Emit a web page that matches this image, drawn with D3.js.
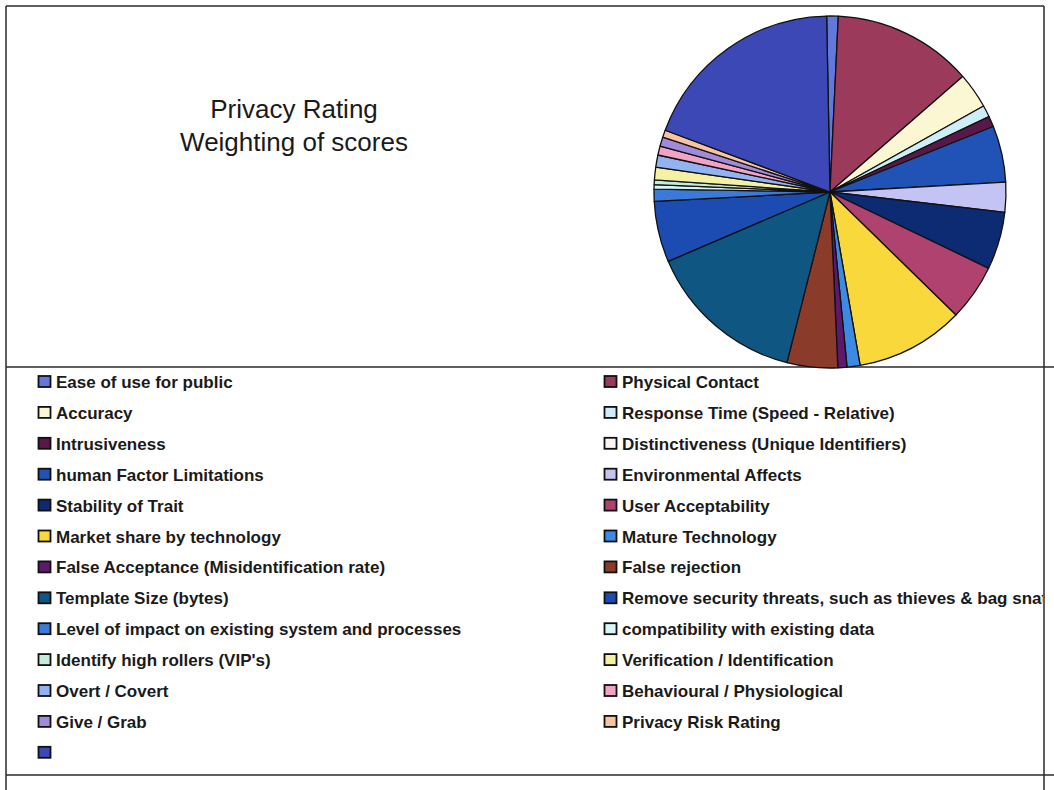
<!DOCTYPE html>
<html>
<head>
<meta charset="utf-8">
<script src="https://cdn.jsdelivr.net/npm/d3@7"></script>
<style>
  html, body { margin: 0; padding: 0; background: #fff; }
  svg { display: block; }
</style>
</head>
<body>
<svg id="chart" width="1054" height="790"></svg>
<script>
// Criteria in series order (legend reads row by row, two columns)
const categories = [
  "Ease of use for public",
  "Physical Contact",
  "Accuracy",
  "Response Time (Speed - Relative)",
  "Intrusiveness",
  "Distinctiveness (Unique Identifiers)",
  "human Factor Limitations",
  "Environmental Affects",
  "Stability of Trait",
  "User Acceptability",
  "Market share by technology",
  "Mature Technology",
  "False Acceptance (Misidentification rate)",
  "False rejection",
  "Template Size (bytes)",
  "Remove security threats, such as thieves & bag snatchers",
  "Level of impact on existing system and processes",
  "compatibility with existing data",
  "Identify high rollers (VIP's)",
  "Verification / Identification",
  "Overt / Covert",
  "Behavioural / Physiological",
  "Give / Grab",
  "Privacy Risk Rating",
  ""
];

// Weighting of each criterion in the privacy score
const weights = [
  3.8, 46.2, 11.8, 3.9, 3.5, 0, 18.6, 9.9, 19.0, 18.6,
  35.8, 4.3, 3.0, 16.7, 52.6, 20.1, 4.0, 1.5, 1.5, 4.2,
  4.0, 3.0, 3.0, 2.4, 68.3
];

// Slice fills
const colors = [
  "#6278dc", "#9c3a5c", "#fbf7d2", "#cdeef8", "#5a1848", "#fdf4f4",
  "#2152b6", "#c4c4f4", "#0d2b72", "#b0426f", "#f9d83c", "#3d8ae2",
  "#5c1a6c", "#8a3b2a", "#0f5782", "#1c4cb2", "#3b7ad8", "#d8f6f6",
  "#c4ecda", "#f5f1a2", "#93b2f1", "#f1a3c3", "#a18ad9", "#f8c3a2",
  "#3c48b6"
];

const svg = d3.select("#chart");

// Frame lines
const frame = svg.append("g")
  .attr("stroke", "#2a2a2a")
  .attr("stroke-width", 1.5)
  .attr("fill", "none");
frame.append("line").attr("x1", 6).attr("y1", 6).attr("x2", 1044).attr("y2", 6);
frame.append("line").attr("x1", 6).attr("y1", 6).attr("x2", 6).attr("y2", 790);
frame.append("line").attr("x1", 1044).attr("y1", 6).attr("x2", 1044).attr("y2", 790);
frame.append("line").attr("x1", 6).attr("y1", 367).attr("x2", 1054).attr("y2", 367);
frame.append("line").attr("x1", 6).attr("y1", 775).attr("x2", 1054).attr("y2", 775);

// Title
const title = svg.append("text")
  .attr("text-anchor", "middle")
  .attr("font-family", "Liberation Sans, Arial, sans-serif")
  .attr("font-size", 26)
  .attr("fill", "#1a1a1a");
title.append("tspan").attr("x", 294).attr("y", 118).text("Privacy Rating");
title.append("tspan").attr("x", 294).attr("y", 151).text("Weighting of scores");

// Pie
const cx = 830, cy = 192, radius = 176;
const start = -1.1 * Math.PI / 180;
const pie = d3.pie()
  .sort(null)
  .value(d => d.value)
  .startAngle(start)
  .endAngle(start + 2 * Math.PI);
const arc = d3.arc().innerRadius(0).outerRadius(radius);

const data = categories.map((c, i) => ({ name: c, value: weights[i], color: colors[i] }));

svg.append("g")
  .attr("transform", `translate(${cx},${cy})`)
  .selectAll("path")
  .data(pie(data).filter(d => d.data.value > 0))
  .join("path")
  .attr("d", arc)
  .attr("fill", d => d.data.color)
  .attr("stroke", "#111")
  .attr("stroke-width", 1.3)
  .attr("stroke-linejoin", "round");

// Legend, two columns filled row by row; long labels run into the frame edge
svg.append("clipPath").attr("id", "legendClip")
  .append("rect").attr("x", 0).attr("y", 368).attr("width", 1043).attr("height", 406);

const colX = [38, 604];
const row0 = 382, rowStep = 30.9;
const legend = svg.append("g").attr("clip-path", "url(#legendClip)");
const items = legend.selectAll("g.item")
  .data(data)
  .join("g")
  .attr("class", "item")
  .attr("transform", (d, i) =>
    `translate(${colX[i % 2]},${row0 + Math.floor(i / 2) * rowStep})`);

items.append("rect")
  .attr("x", 0.5).attr("y", -6)
  .attr("width", 12).attr("height", 11)
  .attr("fill", d => d.color)
  .attr("stroke", "#111")
  .attr("stroke-width", 1.8);

items.append("text")
  .attr("x", 18).attr("y", 6)
  .attr("font-family", "Liberation Sans, Arial, sans-serif")
  .attr("font-weight", "bold")
  .attr("font-size", 17)
  .attr("fill", "#1a1a1a")
  .text(d => d.name);
</script>
</body>
</html>
